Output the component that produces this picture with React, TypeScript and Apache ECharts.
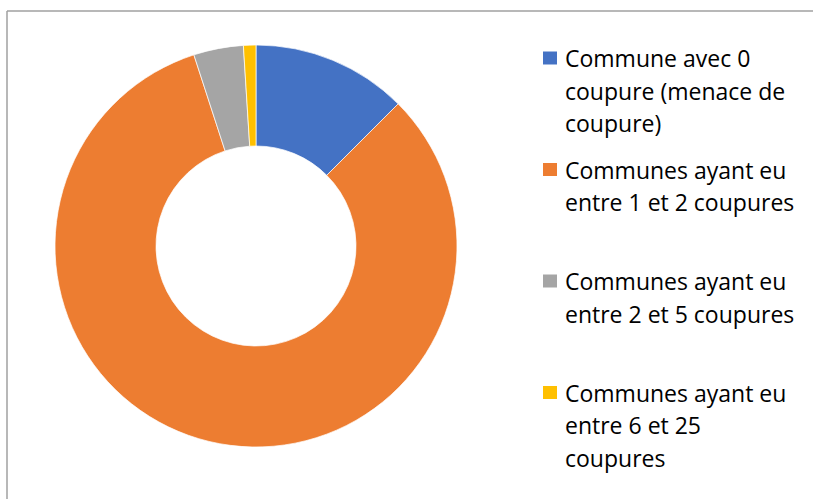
import React, { useEffect, useRef } from "react";
import * as echarts from "echarts";

const categories = [
  "Commune avec 0\ncoupure (menace de\ncoupure)",
  "Communes ayant eu\nentre 1 et 2 coupures",
  "Communes ayant eu\nentre 2 et 5 coupures",
  "Communes ayant eu\nentre 6 et 25\ncoupures",
];
const values = [12.5, 82.5, 4, 1];
const colors = ["#4472C4", "#ED7D31", "#A5A5A5", "#FFC000"];

export default function App() {
  const ref = useRef<HTMLDivElement>(null);
  useEffect(() => {
    if (!ref.current) return;
    const chart = echarts.init(ref.current, undefined, { renderer: "svg" });
    const font = "'Open Sans', 'Noto Sans', sans-serif";
    const legendItems: any[] = [];
    categories.forEach((c, i) => {
      const cy = 58 + i * 111.5;
      legendItems.push({
        type: "rect",
        shape: { x: 543, y: cy - 6.5, width: 14, height: 13 },
        style: { fill: colors[i] },
      });
      legendItems.push({
        type: "text",
        x: 565,
        y: cy - 16.25,
        style: {
          text: c,
          font: `23px ${font}`,
          fill: "#000",
          lineHeight: 32.5,
          verticalAlign: "top",
          align: "left",
        },
      });
    });
    chart.setOption({
      animation: false,
      backgroundColor: "#fff",
      color: colors,
      series: [
        {
          type: "pie",
          center: [256, 246],
          radius: [100, 201],
          startAngle: 90,
          clockwise: true,
          label: { show: false },
          labelLine: { show: false },
          itemStyle: { borderColor: "#fff", borderWidth: 0.7 },
          emphasis: { disabled: true },
          data: categories.map((c, i) => ({ name: c, value: values[i] })),
        },
      ],
      graphic: [
        {
          type: "line",
          shape: { x1: 7, y1: 11, x2: 813, y2: 11 },
          style: { stroke: "#a0a0a0", lineWidth: 1.5 },
        },
        {
          type: "line",
          shape: { x1: 7, y1: 11, x2: 7, y2: 499 },
          style: { stroke: "#a0a0a0", lineWidth: 1.5 },
        },
        ...legendItems,
      ],
    });
    return () => chart.dispose();
  }, []);
  return (
    <div
      ref={ref}
      style={{ position: "fixed", left: 0, top: 0, width: 813, height: 499 }}
    />
  );
}
